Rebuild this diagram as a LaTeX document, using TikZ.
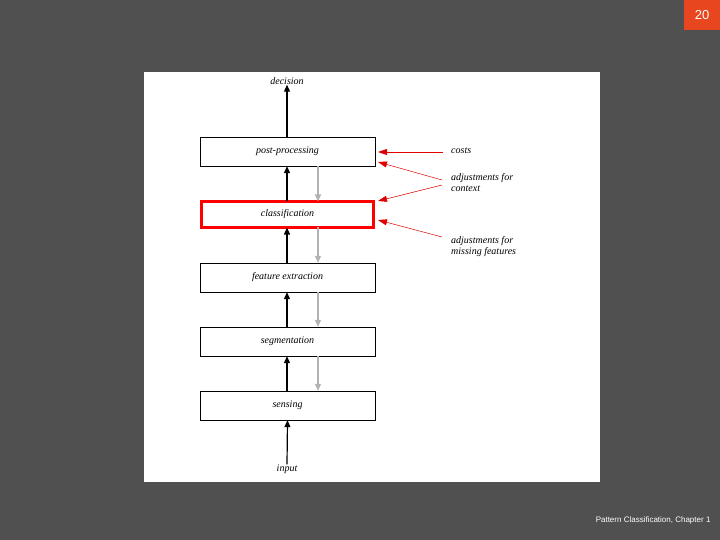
\documentclass[tikz,border=0pt]{standalone}
\usepackage{fontspec}
\setmainfont{Liberation Serif}
\setsansfont{Liberation Sans}
\usetikzlibrary{arrows.meta}
\definecolor{bg}{HTML}{505050}
\definecolor{slidered}{HTML}{E8461E}
\definecolor{pr}{HTML}{E00000}
\tikzset{x=1pt,y=-1pt,
 stage/.style={draw=black,fill=white,minimum width=175pt,minimum height=29pt,inner sep=0pt,font=\itshape\fontsize{10}{10}\selectfont},
 lbl/.style={font=\itshape\fontsize{10}{11}\selectfont,inner sep=0pt,align=left},
 up/.style={draw=black,line width=1.2pt,-{Triangle[length=7pt,width=6pt]}},
 down/.style={draw=gray!60,line width=1.2pt,-{Triangle[length=7pt,width=6pt]}},
 rarr/.style={draw=pr,line width=0.5pt,-{Triangle[length=9pt,width=6pt]}}}
\begin{document}
\begin{tikzpicture}
\useasboundingbox (0,0) rectangle (720,540);
\fill[bg] (0,0) rectangle (720,540);
\fill[white] (144,72) rectangle (600,482);
\node[fill=slidered,minimum width=36pt,minimum height=30pt,inner sep=0pt,text=white,font=\sffamily\fontsize{13}{13}\selectfont] (num) at (702,15) {20};
\node[anchor=east,text=white,font=\sffamily\fontsize{8}{8}\selectfont] (foot) at (714,520) {Pattern Classification, Chapter 1};
\node[stage] (post) at (287.5,151.5) {post-processing};
\node[stage,draw=red,line width=3pt,minimum width=172pt,minimum height=26pt] (cls) at (287.5,214.5) {classification};
\node[stage] (feat) at (287.5,277.5) {feature extraction};
\node[stage] (seg) at (287.5,341.5) {segmentation};
\node[stage] (sens) at (287.5,405.5) {sensing};
\node[lbl] (dec) at (287,81) {decision};
\node[lbl] (inp) at (287,469) {input};
\draw[up] (inp.north) -- (sens.south);
\draw[up] ([xshift=-0.5pt]sens.north) -- ([xshift=-0.5pt]seg.south);
\draw[up] ([xshift=-0.5pt]seg.north) -- ([xshift=-0.5pt]feat.south);
\draw[up] ([xshift=-0.5pt]feat.north) -- ([xshift=-0.5pt,yshift=1.5pt]cls.south);
\draw[up] ([xshift=-0.5pt,yshift=-1.5pt]cls.north) -- ([xshift=-0.5pt]post.south);
\draw[up] ([xshift=-0.5pt]post.north) -- (dec.south);
\draw[down] ([xshift=30.5pt]post.south) -- ([xshift=30.5pt,yshift=-1.5pt]cls.north);
\draw[down] ([xshift=30.5pt,yshift=1.5pt]cls.south) -- ([xshift=30.5pt]feat.north);
\draw[down] ([xshift=30.5pt]feat.south) -- ([xshift=30.5pt]seg.north);
\draw[down] ([xshift=30.5pt]seg.south) -- ([xshift=30.5pt]sens.north);
\node[lbl,anchor=west] (costs) at (451,151) {costs};
\node[lbl,anchor=west] (ctx) at (451,183) {adjustments for\\context};
\node[lbl,anchor=west] (miss) at (451,247) {adjustments for\\missing features};
\coordinate (c1) at (443,152);
\coordinate (c2) at (442,180);
\coordinate (c3) at (442,185);
\coordinate (c4) at (442,237);
\draw[rarr] (c1) -- (378,152);
\draw[rarr] (c2) -- (378,162);
\draw[rarr] (c3) -- (378,201);
\draw[rarr] (c4) -- (378,220);
\end{tikzpicture}
\end{document}
